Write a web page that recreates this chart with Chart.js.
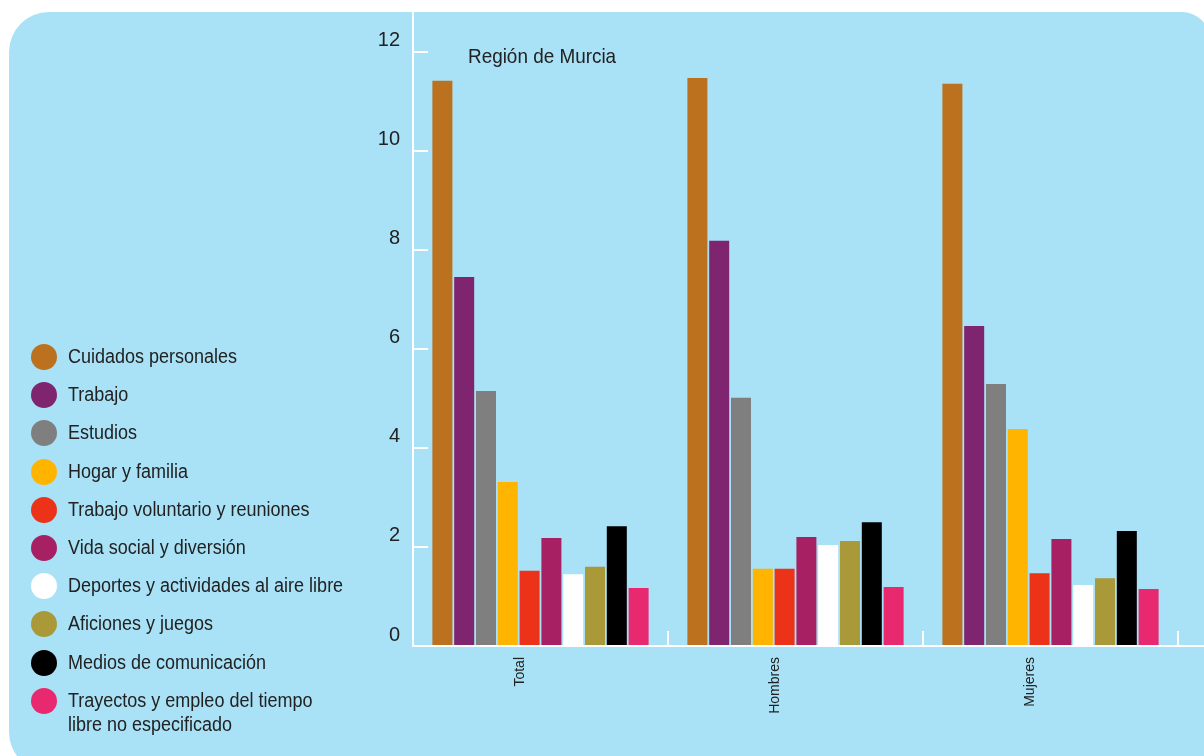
<!DOCTYPE html>
<html>
<head>
<meta charset="utf-8">
<script src="https://cdn.jsdelivr.net/npm/chart.js@4.4.0/dist/chart.umd.min.js"></script>
<style>
  body { margin: 0; background: #fff; width: 1204px; height: 756px; overflow: hidden; position: relative; font-family: "Liberation Sans", Arial, sans-serif; }
  #panel { position: absolute; left: 9px; top: 12px; width: 1201px; height: 760px; background: #a9e1f6; border-radius: 40px 28px 0 40px; }
  #grafico { position: absolute; left: 0; top: 0; }
  #leyenda { position: absolute; left: 0; top: 0; }
  .item { position: absolute; left: 31px; display: flex; align-items: flex-start; color: #222; font-size: 20px; line-height: 24px; white-space: nowrap; }
  .punto { width: 26px; height: 26px; border-radius: 50%; margin-right: 11px; flex: none; }
  .texto { display: inline-block; transform: scaleX(0.9); transform-origin: left top; }
</style>
</head>
<body>
<div id="panel"></div>
<canvas id="grafico" width="1204" height="756"></canvas>
<div id="leyenda"></div>
<script>
const categorias = ['Total', 'Hombres', 'Mujeres'];
const actividades = ['Cuidados personales', 'Trabajo', 'Estudios', 'Hogar y familia',
    'Trabajo voluntario y reuniones', 'Vida social y diversión', 'Deportes y actividades al aire libre',
    'Aficiones y juegos', 'Medios de comunicación', 'Trayectos y empleo del tiempo\nlibre no especificado'];
const colores = ['#bb711d', '#7f2570', '#807f7f', '#ffb400', '#ed321a', '#a72063', '#ffffff', '#a99938', '#000000', '#e8296f'];

// horas por actividad: Total, Hombres, Mujeres
const cuidados = [11.41, 11.47, 11.35];
const trabajo = [7.45, 8.18, 6.46];
const estudios = [5.15, 5.01, 5.29];
const hogar = [3.31, 1.56, 4.38];
const voluntario = [1.52, 1.56, 1.47];
const vidaSocial = [2.18, 2.20, 2.16];
const deportes = [1.45, 2.04, 1.23];
const aficiones = [1.60, 2.12, 1.37];
const medios = [2.42, 2.50, 2.32];
const trayectos = [1.17, 1.19, 1.15];
const series = [cuidados, trabajo, estudios, hogar, voluntario, vidaSocial, deportes, aficiones, medios, trayectos];

const titulo = 'Región de Murcia';
const textoOscuro = '#222';
const fuente = '"Liberation Sans", Arial, sans-serif';

// Leyenda en HTML
const leyenda = document.getElementById('leyenda');
actividades.forEach((nombre, i) => {
    const item = document.createElement('div');
    item.className = 'item';
    item.style.top = (344 + i * 38.2) + 'px';
    const punto = document.createElement('span');
    punto.className = 'punto';
    punto.style.background = colores[i];
    const texto = document.createElement('span');
    texto.className = 'texto';
    texto.innerHTML = nombre.replace('\n', '<br>');
    item.appendChild(punto);
    item.appendChild(texto);
    leyenda.appendChild(item);
});

// Marcas blancas de los ejes y titulo
const marcas = {
    id: 'marcas',
    afterDraw(chart) {
        const ctx = chart.ctx;
        const area = chart.chartArea;
        const y = chart.scales.y;
        const x = chart.scales.x;
        ctx.save();
        ctx.strokeStyle = '#ffffff';
        ctx.lineWidth = 2;
        y.ticks.forEach((t) => {
            const py = Math.round(y.getPixelForValue(t.value));
            ctx.beginPath();
            ctx.moveTo(area.left, py);
            ctx.lineTo(area.left + 15, py);
            ctx.stroke();
        });
        ctx.beginPath();
        ctx.moveTo(area.left, area.bottom);
        ctx.lineTo(chart.width, area.bottom);
        ctx.stroke();
        const mitad = (area.right - area.left) / categorias.length / 2;
        categorias.forEach((c, i) => {
            const px = Math.round(x.getPixelForValue(i) + mitad);
            ctx.beginPath();
            ctx.moveTo(px, area.bottom - 15);
            ctx.lineTo(px, area.bottom);
            ctx.stroke();
        });
        ctx.fillStyle = textoOscuro;
        ctx.font = '21px ' + fuente;
        ctx.textBaseline = 'middle';
        ctx.translate(area.left + 55, area.top + 45);
        ctx.scale(0.9, 1);
        ctx.fillText(titulo, 0, 0);
        ctx.restore();
    }
};

const datasets = series.map((valores, i) => ({
    label: actividades[i],
    data: valores,
    backgroundColor: colores[i],
    borderWidth: 0,
    categoryPercentage: 0.855,
    barPercentage: 0.917,
}));

new Chart(document.getElementById('grafico'), {
    type: 'bar',
    data: { labels: categorias, datasets: datasets },
    options: {
        responsive: false,
        animation: false,
        layout: { padding: { top: 12, right: 26, left: 0, bottom: 0 } },
        plugins: { legend: { display: false }, tooltip: { enabled: false }, title: { display: false } },
        scales: {
            x: {
                afterFit: (scale) => { scale.height = 110; scale.paddingLeft = 0; scale.paddingRight = 0; },
                grid: { display: false, drawTicks: false },
                border: { display: false },
                ticks: {
                    minRotation: 90, maxRotation: 90, padding: 11, labelOffset: -20,
                    color: textoOscuro,
                    font: { family: fuente, size: 14 },
                },
            },
            y: {
                min: 0,
                max: 12.8,
                afterFit: (scale) => { scale.width = 413; scale.paddingTop = 0; scale.paddingBottom = 0; },
                grid: { display: false, drawTicks: false },
                border: { display: true, color: '#ffffff', width: 2 },
                ticks: {
                    stepSize: 2, includeBounds: false, padding: 13, labelOffset: -11,
                    color: textoOscuro,
                    font: { family: fuente, size: 20 },
                },
            },
        },
    },
    plugins: [marcas],
});
</script>
</body>
</html>
